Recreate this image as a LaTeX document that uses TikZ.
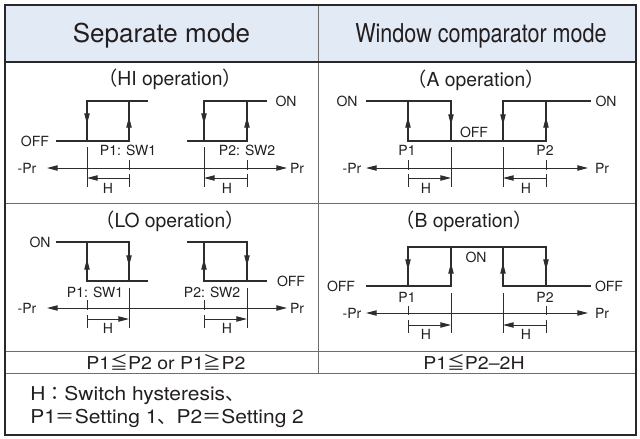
\documentclass[tikz,border=0pt]{standalone}
\usepackage{fontspec}
\setmainfont{TeX Gyre Heros}
\newfontfamily\widesans[FakeStretch=1.1]{TeX Gyre Heros}
\newfontfamily\cjk{Noto Sans CJK JP}
\usetikzlibrary{arrows.meta}

\definecolor{hdrblue}{RGB}{226,234,246}
\definecolor{ink}{RGB}{35,31,32}
\definecolor{frame}{RGB}{40,40,40}
\definecolor{rulegray}{RGB}{110,110,110}
\definecolor{sigline}{RGB}{45,45,45}

\tikzset{
  hytip/.tip={Triangle[length=8pt,width=4pt]},
  sig/.style={draw=sigline, line width=0.8pt},
  mid/.style={-hytip},
  axis/.style={draw=sigline, line width=0.75pt, hytip-hytip},
  tick/.style={draw=sigline, line width=0.7pt},
  dim/.style={draw=sigline, line width=0.75pt, -hytip},
  lbl/.style={text=ink, inner sep=0pt, font=\fontsize{10.5pt}{12pt}\selectfont},
  ttl/.style={text=ink, inner sep=0pt, font=\fontsize{14.5pt}{16pt}\selectfont},
  hdr/.style={text=ink, inner sep=0pt, font=\fontsize{19.5pt}{23pt}\selectfont},
  cond/.style={text=ink, inner sep=0pt, font=\widesans\fontsize{13.3pt}{15pt}\selectfont},
  note/.style={text=ink, inner sep=0pt, anchor=base west, font=\widesans\fontsize{14.3pt}{17pt}\selectfont}
}

\begin{document}
\begin{tikzpicture}[x=0.75pt, y=-0.75pt]
  \useasboundingbox (0,0) rectangle (640,439);

  % table
  \fill[hdrblue] (5,5) rectangle (636,62);
  \draw[rulegray, line width=0.75pt] (318,5) -- (318,373)
    (5,203) -- (636,203) (5,351) -- (636,351) (5,373) -- (636,373);
  \draw[frame, line width=1.2pt] (5,62) -- (636,62);
  \draw[frame, line width=1.5pt] (5,5) rectangle (636,435);

  \node[hdr, anchor=base] (sepHd) at (161.5,42) {Separate mode};
  \node[hdr, anchor=base] (winHd) at (481,42) {\scalebox{0.83}[1]{Window comparator mode}};

  % HI operation
  \node[ttl] (hiT) at (170,79) {{\cjk （}HI operation{\cjk ）}};
  \draw[sig] (56,141) -- (129,141) -- (129,101) -- (87,101) -- (87,141)
    (129,101) -- (148,101);
  \draw[sig] (187,141) -- (247,141) -- (247,101) -- (204,101) -- (204,141)
    (247,101) -- (267,101);
  \draw[sig,mid] (87,101) -- (87,124);
  \draw[sig,mid] (129,141) -- (129,117);
  \draw[sig,mid] (204,101) -- (204,124);
  \draw[sig,mid] (247,141) -- (247,117);
  \node[lbl] (hiOff) at (35,141) {OFF};
  \node[lbl] (hiOn) at (286,101) {ON};
  \node[lbl] (hiP1) at (128,150) {P1: SW1};
  \node[lbl] (hiP2) at (247,150) {P2: SW2};
  \draw[axis] (47,168) -- (287,168);
  \node[lbl] (hiMpr) at (27,168) {-Pr};
  \node[lbl] (hiPr) at (297,168) {Pr};
  \draw[tick] (87,147) -- (87,187) (129,160) -- (129,170) (129,174) -- (129,187)
    (204,147) -- (204,187) (247,160) -- (247,170) (247,174) -- (247,187);
  \draw[dim] (129,178) -- (87,178);
  \draw[dim] (247,178) -- (204,178);
  \node[lbl] (hiH1) at (108,188) {H};
  \node[lbl] (hiH2) at (227,188) {H};

  % LO operation
  \node[ttl] (loT) at (170,221) {{\cjk （}LO operation{\cjk ）}};
  \draw[sig] (56,242) -- (129,242) -- (129,281) -- (87,281) -- (87,242)
    (129,281) -- (148,281);
  \draw[sig] (187,242) -- (247,242) -- (247,281) -- (204,281) -- (204,242)
    (247,281) -- (267,281);
  \draw[sig,mid] (87,281) -- (87,259);
  \draw[sig,mid] (129,242) -- (129,266);
  \draw[sig,mid] (204,281) -- (204,259);
  \draw[sig,mid] (247,242) -- (247,266);
  \node[lbl] (loOn) at (40,242) {ON};
  \node[lbl] (loOff) at (291,281) {OFF};
  \node[lbl] (loP1) at (95,292) {P1: SW1};
  \node[lbl] (loP2) at (212,292) {P2: SW2};
  \draw[axis] (47,308) -- (287,308);
  \node[lbl] (loMpr) at (27,308) {-Pr};
  \node[lbl] (loPr) at (297,308) {Pr};
  \draw[tick] (87,300) -- (87,310) (87,315) -- (87,328) (129,288) -- (129,328)
    (204,300) -- (204,310) (204,315) -- (204,328) (247,288) -- (247,328);
  \draw[dim] (87,319) -- (129,319);
  \draw[dim] (204,319) -- (247,319);
  \node[lbl] (loH1) at (108,328) {H};
  \node[lbl] (loH2) at (227,328) {H};

  % A operation
  \node[ttl] (aT) at (476,80) {{\cjk （}A operation{\cjk ）}};
  \draw[sig] (366,101) -- (451,101) -- (451,141) (408,101) -- (408,141) -- (546,141) -- (546,101)
    (503,141) -- (503,101) -- (591,101);
  \draw[sig,mid] (408,141) -- (408,117);
  \draw[sig,mid] (451,101) -- (451,125);
  \draw[sig,mid] (503,101) -- (503,125);
  \draw[sig,mid] (546,141) -- (546,117);
  \node[lbl] (aOnL) at (347,101) {ON};
  \node[lbl] (aOnR) at (606,101) {ON};
  \node[lbl] (aOff) at (474,132) {OFF};
  \node[lbl] (aP1) at (407,150) {P1};
  \node[lbl] (aP2) at (545,150) {P2};
  \draw[axis] (366,168) -- (588,168);
  \node[lbl] (aMpr) at (352,168) {-Pr};
  \node[lbl] (aPr) at (602,168) {Pr};
  \draw[tick] (408,160) -- (408,170) (408,174) -- (408,187) (451,147) -- (451,187)
    (503,147) -- (503,187) (546,160) -- (546,170) (546,174) -- (546,187);
  \draw[dim] (408,178) -- (451,178);
  \draw[dim] (546,178) -- (503,178);
  \node[lbl] (aH1) at (426,188) {H};
  \node[lbl] (aH2) at (526,188) {H};

  % B operation
  \node[ttl] (bT) at (464,221) {{\cjk （}B operation{\cjk ）}};
  \draw[sig] (366,286) -- (451,286) -- (451,247) (408,286) -- (408,247) -- (546,247) -- (546,286)
    (503,247) -- (503,286) -- (591,286);
  \draw[sig,mid] (408,247) -- (408,270);
  \draw[sig,mid] (451,286) -- (451,263);
  \draw[sig,mid] (503,286) -- (503,263);
  \draw[sig,mid] (546,247) -- (546,270);
  \node[lbl] (bOffL) at (341,286) {OFF};
  \node[lbl] (bOffR) at (609,286) {OFF};
  \node[lbl] (bOn) at (476,257) {ON};
  \node[lbl] (bP1) at (407,297) {P1};
  \node[lbl] (bP2) at (545,297) {P2};
  \draw[axis] (366,313) -- (588,313);
  \node[lbl] (bMpr) at (352,313) {-Pr};
  \node[lbl] (bPr) at (602,313) {Pr};
  \draw[tick] (408,306) -- (408,315) (408,320) -- (408,333) (451,293) -- (451,333)
    (503,293) -- (503,333) (546,306) -- (546,315) (546,320) -- (546,333);
  \draw[dim] (408,325) -- (451,325);
  \draw[dim] (546,325) -- (503,325);
  \node[lbl] (bH1) at (426,334) {H};
  \node[lbl] (bH2) at (526,334) {H};

  % conditions and notes
  \node[cond] (sepCond) at (166,362) {P1{\cjk ≦}P2 or P1{\cjk ≧}P2};
  \node[cond] (winCond) at (474,362) {P1{\cjk ≦}P2–2H};
  \node[note] (noteH) at (30,400) {H{\cjk ：}Switch hysteresis{\cjk 、}};
  \node[note] (noteP) at (30,423) {P1{\cjk ＝}Setting 1{\cjk 、}P2{\cjk ＝}Setting 2};
\end{tikzpicture}
\end{document}
